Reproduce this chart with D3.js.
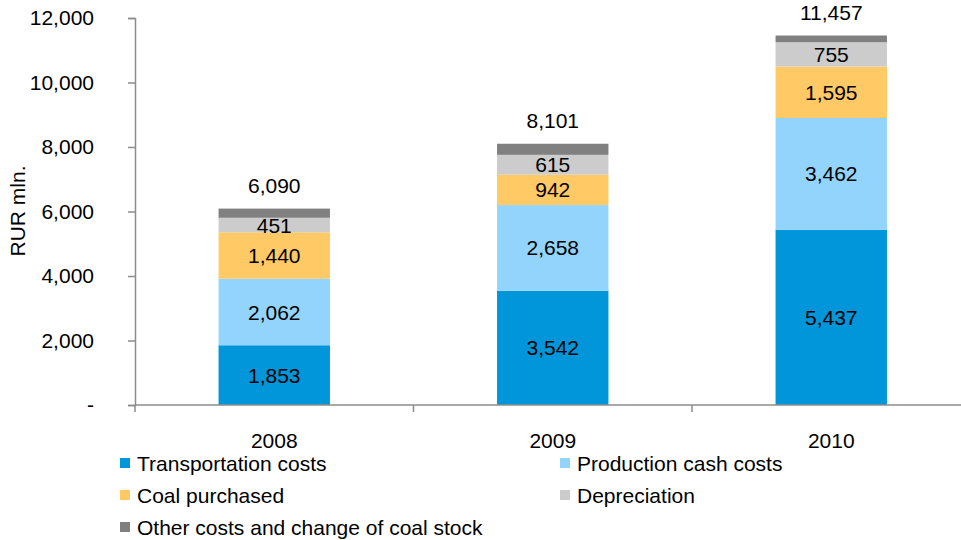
<!DOCTYPE html>
<html><head><meta charset="utf-8">
<script src="https://cdn.jsdelivr.net/npm/d3@7"></script>
<style>body{margin:0;background:#fff}svg{display:block;font-family:"Liberation Sans",Arial,sans-serif}</style>
</head><body><svg id="c" width="961" height="540"></svg>
<script>
const years = ["2008","2009","2010"];
const seriesNames = ["Transportation costs","Production cash costs","Coal purchased","Depreciation","Other costs and change of coal stock"];
const transportation = [1853,3542,5437];
const production = [2062,2658,3462];
const coalPurchased = [1440,942,1595];
const depreciation = [451,615,755];
const otherCosts = [284,344,208];
const totals = [6090,8101,11457];
const yTicks = [0,2000,4000,6000,8000,10000,12000];
const colors = ["#0096D9","#93D4FC","#FFC966","#CCCCCC","#808080"];

const FS = 21;
const seriesValues = [transportation,production,coalPurchased,depreciation,otherCosts];
const rows = years.map((y,i)=>{const r={year:y};seriesNames.forEach((s,k)=>r[s]=seriesValues[k][i]);return r;});
const stacked = d3.stack().keys(seriesNames)(rows);

const svg = d3.select("#c");
const x = d3.scaleBand().domain(years).range([135,970.5]).paddingInner(0.6).paddingOuter(0.3);
const y = d3.scaleLinear().domain([0,12000]).range([405,18]);
const fmt = d3.format(",");

// bars
const g = svg.append("g");
stacked.forEach((s,k)=>{
  g.selectAll(null).data(s).enter().append("rect")
    .attr("x",d=>x(d.data.year)).attr("width",x.bandwidth())
    .attr("y",d=>y(d[1])).attr("height",d=>y(d[0])-y(d[1]))
    .attr("fill",colors[k]);
  if(k<4){
    g.selectAll(null).data(s).enter().append("text")
      .attr("x",d=>x(d.data.year)+x.bandwidth()/2)
      .attr("y",d=>(y(d[0])+y(d[1]))/2)
      .attr("dy","0.36em").attr("text-anchor","middle")
      .attr("font-size",FS).attr("fill","#000")
      .text(d=>fmt(d[1]-d[0]));
  }
});
// totals
svg.selectAll(null).data(years).enter().append("text")
  .attr("x",d=>x(d)+x.bandwidth()/2).attr("y",(d,i)=>y(totals[i])-23)
  .attr("dy","0.36em").attr("text-anchor","middle").attr("font-size",FS)
  .text((d,i)=>fmt(totals[i]));

// y axis
const yAxis = d3.axisLeft(y).tickValues(yTicks).tickSize(7)
  .tickFormat(d=>d===0?"-":fmt(d));
const ya = svg.append("g").attr("transform","translate(135,0)").call(yAxis);
ya.select(".domain").attr("stroke","#8c8c8c").attr("stroke-width",1.5);
ya.selectAll(".tick line").attr("stroke","#8c8c8c").attr("stroke-width",1.5);
ya.selectAll(".tick text").attr("font-size",FS).attr("fill","#000")
  .attr("font-family","Liberation Sans, Arial, sans-serif")
  .attr("x",-41).attr("text-anchor","end");

// x axis
const xa = svg.append("g").attr("transform","translate(0,405)");
xa.append("line").attr("x1",135).attr("x2",961).attr("stroke","#8c8c8c").attr("stroke-width",1.5);
const step = x.step();
const bounds = [0,1,2,3].map(i=>135+step*i);
xa.selectAll(null).data(bounds).enter().append("line")
  .attr("x1",d=>d).attr("x2",d=>d).attr("y1",0).attr("y2",7)
  .attr("stroke","#8c8c8c").attr("stroke-width",1.5);
xa.selectAll(null).data(years).enter().append("text")
  .attr("x",d=>x(d)+x.bandwidth()/2).attr("y",35).attr("dy","0.36em")
  .attr("text-anchor","middle").attr("font-size",FS).text(d=>d);

// axis title
svg.append("text").attr("transform","translate(17,211) rotate(-90)")
  .attr("text-anchor","middle").attr("dy","0.36em").attr("font-size",FS).text("RUR mln.");

// legend
const legPos = [[120,463],[560,463],[120,495],[560,495],[120,527]];
seriesNames.forEach((s,k)=>{
  const [lx,ly]=legPos[k];
  svg.append("rect").attr("x",lx).attr("y",ly-5).attr("width",10).attr("height",10).attr("fill",colors[k]);
  svg.append("text").attr("x",lx+17).attr("y",ly).attr("dy","0.36em").attr("font-size",FS).text(s);
});
</script></body></html>
